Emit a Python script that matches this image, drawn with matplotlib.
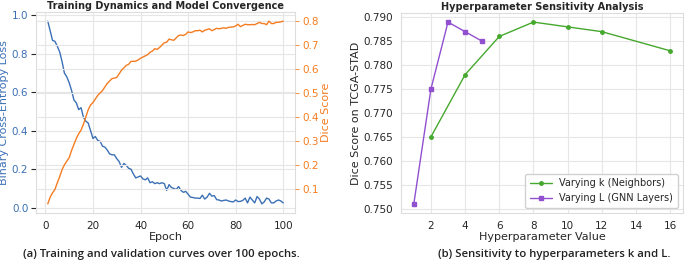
import matplotlib
matplotlib.use("Agg")
import matplotlib.pyplot as plt
import seaborn as sns

# ── colours ──────────────────────────────────────────────────────────────────
C_LOSS = "#3b70b6"
C_DICE = "#f57c20"
C_K    = "#46a82e"
C_L    = "#9150d0"

# ── data: training curves ────────────────────────────────────────────────────
epochs = list(range(1, 101))
loss = [
    0.97, 0.92, 0.87, 0.865, 0.84, 0.81, 0.76, 0.70, 0.68, 0.65,
    0.61, 0.56, 0.545, 0.51, 0.52, 0.47, 0.45, 0.44, 0.40, 0.36,
    0.37, 0.35, 0.345, 0.32, 0.315, 0.30, 0.28, 0.275, 0.275, 0.255,
    0.24, 0.21, 0.23, 0.22, 0.205, 0.20, 0.175, 0.155, 0.16, 0.165,
    0.15, 0.145, 0.155, 0.13, 0.135, 0.125, 0.13, 0.125, 0.13, 0.125,
    0.09, 0.12, 0.105, 0.10, 0.095, 0.11, 0.09, 0.08, 0.085, 0.07,
    0.055, 0.053, 0.05, 0.05, 0.048, 0.065, 0.045, 0.055, 0.075, 0.06,
    0.063, 0.042, 0.04, 0.035, 0.038, 0.04, 0.035, 0.032, 0.03, 0.04,
    0.032, 0.033, 0.038, 0.05, 0.025, 0.055, 0.04, 0.025, 0.058, 0.045,
    0.02, 0.03, 0.05, 0.045, 0.025, 0.025, 0.035, 0.04, 0.035, 0.025,
]
dice = [
    0.037, 0.065, 0.083, 0.097, 0.125, 0.15, 0.18, 0.20, 0.215, 0.23,
    0.26, 0.285, 0.31, 0.33, 0.345, 0.37, 0.40, 0.43, 0.45, 0.46,
    0.475, 0.49, 0.50, 0.51, 0.525, 0.54, 0.55, 0.56, 0.562, 0.565,
    0.58, 0.595, 0.605, 0.615, 0.62, 0.632, 0.632, 0.633, 0.638, 0.645,
    0.65, 0.655, 0.66, 0.67, 0.675, 0.685, 0.682, 0.69, 0.70, 0.71,
    0.712, 0.725, 0.722, 0.72, 0.73, 0.74, 0.742, 0.74, 0.745, 0.755,
    0.752, 0.755, 0.76, 0.76, 0.762, 0.755, 0.762, 0.765, 0.768, 0.76,
    0.765, 0.77, 0.768, 0.77, 0.772, 0.77, 0.774, 0.775, 0.776, 0.78,
    0.787, 0.777, 0.782, 0.787, 0.785, 0.785, 0.786, 0.785, 0.79, 0.795,
    0.79, 0.79, 0.785, 0.80, 0.79, 0.79, 0.795, 0.795, 0.797, 0.80,
]

# ── data: hyperparameter sweep ───────────────────────────────────────────────
k_values = [2, 4, 6, 8, 10, 12, 16]
k_dice   = [0.765, 0.778, 0.786, 0.789, 0.788, 0.787, 0.783]
l_values = [1, 2, 3, 4, 5]
l_dice   = [0.751, 0.775, 0.789, 0.787, 0.785]

sns.set_style("whitegrid")
plt.rcParams["font.family"] = ["DejaVu Sans"]
plt.rcParams["axes.edgecolor"] = "#dddddd"
plt.rcParams["grid.color"] = "#e6e6e6"

TICK_FS = 7.5
LABEL_FS = 8.0
TITLE_FS = 7.0

fig = plt.figure(figsize=(6.85, 2.61), dpi=100)

# ── (a) training curves ──────────────────────────────────────────────────────
ax1 = fig.add_axes([36 / 685, 1 - 213 / 261, (295 - 36) / 685, (213 - 12) / 261])
ax1.plot(epochs, loss, color=C_LOSS, lw=1.0)
ax1.set_xlabel("Epoch", fontsize=LABEL_FS, labelpad=1)
ax1.set_ylabel("Binary Cross-Entropy Loss", fontsize=LABEL_FS, color=C_LOSS, labelpad=2)
ax1.set_xticks([0, 20, 40, 60, 80, 100])
ax1.set_yticks([0.0, 0.2, 0.4, 0.6, 0.8, 1.0])
ax1.tick_params(axis="x", labelsize=TICK_FS, pad=2)
ax1.tick_params(axis="y", labelsize=TICK_FS, labelcolor=C_LOSS, pad=2)
ax1.set_title("Training Dynamics and Model Convergence",
              fontsize=TITLE_FS, fontweight="bold", pad=2.5)

ax2 = ax1.twinx()
ax2.plot(epochs, dice, color=C_DICE, lw=1.0)
ax2.set_ylabel("Dice Score", fontsize=LABEL_FS, color=C_DICE, labelpad=2)
ax2.set_yticks([0.1, 0.2, 0.3, 0.4, 0.5, 0.6, 0.7, 0.8])
ax2.tick_params(axis="y", labelsize=TICK_FS, labelcolor=C_DICE, colors=C_DICE,
                length=3, width=0.6, pad=2)
ax2.tick_params(axis="y", labelcolor=C_DICE)
for sp in ax2.spines.values():
    sp.set_visible(False)

# ── (b) hyperparameter sensitivity ───────────────────────────────────────────
ax3 = fig.add_axes([401 / 685, 1 - 213 / 261, (683 - 401) / 685, (213 - 13) / 261])
ax3.plot(k_values, k_dice, color=C_K, lw=1.0, marker="o", markersize=2.5,
         label="Varying k (Neighbors)")
ax3.plot(l_values, l_dice, color=C_L, lw=1.0, marker="s", markersize=2.5,
         label="Varying L (GNN Layers)")
ax3.set_xticks([2, 4, 6, 8, 10, 12, 14, 16])
ax3.set_yticks([0.750, 0.755, 0.760, 0.765, 0.770, 0.775, 0.780, 0.785, 0.790])
ax3.yaxis.set_major_formatter(matplotlib.ticker.FormatStrFormatter("%.3f"))
ax3.tick_params(labelsize=TICK_FS, pad=2)
ax3.set_xlabel("Hyperparameter Value", fontsize=LABEL_FS, labelpad=1)
ax3.set_ylabel("Dice Score on TCGA-STAD", fontsize=LABEL_FS, labelpad=2)
ax3.set_title("Hyperparameter Sensitivity Analysis",
              fontsize=TITLE_FS, fontweight="bold", pad=2.5)
ax3.legend(loc="lower right", fontsize=7.0, frameon=True, framealpha=0.9,
           handlelength=2.2, borderpad=0.5)

# ── captions ─────────────────────────────────────────────────────────────────
CAP = dict(ha="center", va="center", fontsize=8.2, fontweight="semibold",
           color="#222222", family=["Open Sans", "DejaVu Sans"])
fig.text(161 / 685, 1 - 254 / 261,
         "(a) Training and validation curves over 100 epochs.", **CAP)
fig.text(554 / 685, 1 - 254 / 261,
         "(b) Sensitivity to hyperparameters k and L.", **CAP)

fig.savefig("out.png", dpi=100)
